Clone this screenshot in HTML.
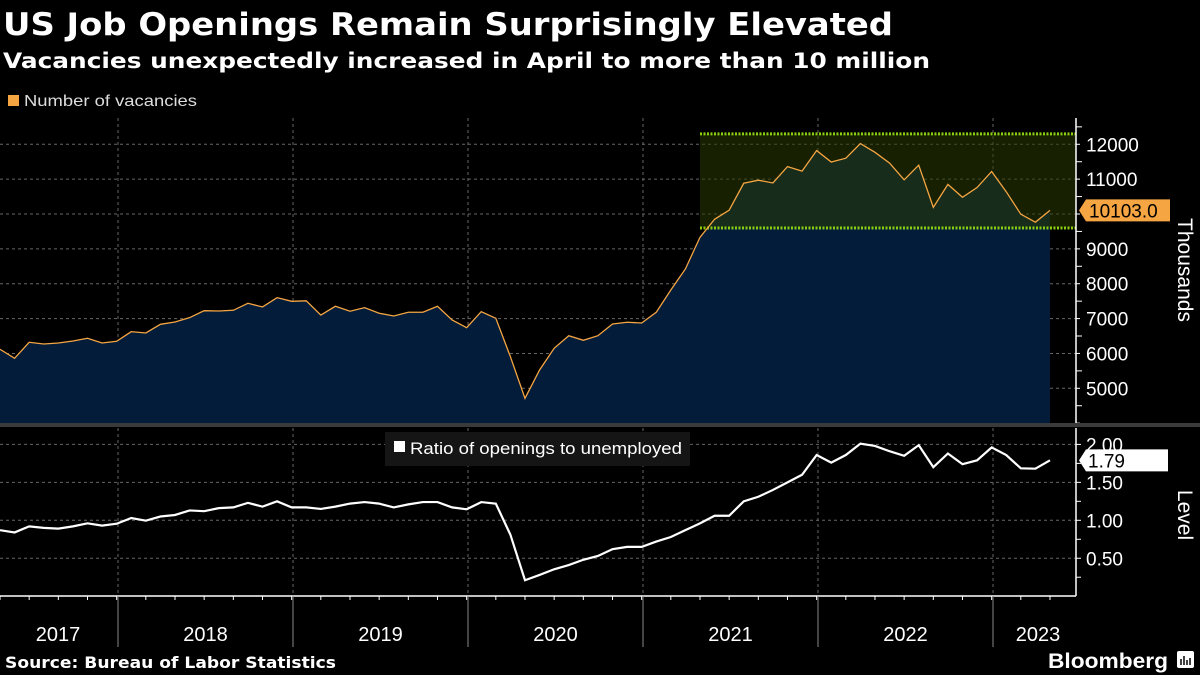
<!DOCTYPE html>
<html><head><meta charset="utf-8"><style>
html,body{margin:0;padding:0;background:#000;}
svg{display:block;font-family:"Liberation Sans","DejaVu Sans",sans-serif;}
</style></head><body>
<svg id="chart" width="1200" height="675" viewBox="0 0 1200 675" xmlns="http://www.w3.org/2000/svg">
<rect x="0" y="0" width="1200" height="675" fill="#000"/>
<text x="3" y="35" fill="#fff" font-size="31" font-weight="bold" font-family="DejaVu Sans, sans-serif" textLength="890" lengthAdjust="spacingAndGlyphs">US Job Openings Remain Surprisingly Elevated</text>
<text x="3" y="68" fill="#fff" font-size="21" font-weight="bold" font-family="DejaVu Sans, sans-serif" textLength="927" lengthAdjust="spacingAndGlyphs">Vacancies unexpectedly increased in April to more than 10 million</text>
<rect x="8" y="95" width="11" height="11" fill="#f5a542"/>
<text x="24" y="106" fill="#ddd" font-size="16" textLength="173" lengthAdjust="spacingAndGlyphs">Number of vacancies</text>
<g id="topPanel"></g>
<g id="botPanel"></g>
<rect x="0" y="423" width="1200" height="4" fill="#3a3a3a"/>
<text x="5" y="668" fill="#fff" font-size="16" font-weight="bold" font-family="DejaVu Sans, sans-serif" textLength="331" lengthAdjust="spacingAndGlyphs">Source: Bureau of Labor Statistics</text>
<text x="1048" y="668" fill="#fff" font-size="21" font-weight="bold" textLength="120" lengthAdjust="spacingAndGlyphs">Bloomberg</text>
<rect x="1177" y="651" width="17" height="17" rx="2" fill="#fff"/>
<path d="M1181 665 V659 M1184 665 V656 M1187 665 V660 M1190 665 V658" stroke="#000" stroke-width="1.5"/>
</svg>
<script>
const vacancies = [6119,5860,6320,6271,6300,6357,6435,6300,6348,6625,6587,6836,6903,7026,7227,7218,7238,7439,7333,7600,7496,7510,7100,7353,7210,7314,7153,7075,7182,7182,7353,6960,6740,7200,7008,5907,4713,5525,6148,6509,6377,6509,6845,6894,6874,7180,7820,8423,9332,9849,10111,10882,10970,10890,11360,11230,11820,11490,11600,12020,11770,11460,10980,11400,10190,10850,10480,10760,11220,10640,9995,9765,10103];
const ratio = [0.87,0.84,0.92,0.90,0.89,0.92,0.96,0.93,0.955,1.03,0.995,1.05,1.07,1.13,1.12,1.16,1.17,1.23,1.18,1.25,1.17,1.17,1.15,1.18,1.22,1.24,1.22,1.17,1.21,1.24,1.24,1.17,1.145,1.24,1.22,0.81,0.21,0.28,0.355,0.41,0.48,0.53,0.62,0.65,0.65,0.72,0.78,0.87,0.96,1.06,1.06,1.25,1.31,1.40,1.50,1.60,1.86,1.76,1.86,2.01,1.98,1.91,1.85,1.99,1.70,1.88,1.74,1.79,1.96,1.86,1.685,1.68,1.79];
const topTicks = [5000,6000,7000,8000,9000,10000,11000,12000];
const topTickLabels = ["5000","6000","7000","8000","9000","","11000","12000"];
const botTicks = [0.5,1.0,1.5,2.0];
const botTickLabels = ["0.50","1.00","1.50","2.00"];
const years = ["2017","2018","2019","2020","2021","2022","2023"];
const bandRange = [9600,12300];
const bandStartIndex = 48;

const NS="http://www.w3.org/2000/svg";
const MONTH=14.583;
const xOf=i=>i*MONTH;
const yTop=v=>388.3-(v-5000)*0.03486;
const yBot=v=>596.2-v*75.9;
const AXX=1076;
function mk(tag,attrs,parent){const e=document.createElementNS(NS,tag);for(const k in attrs)e.setAttribute(k,attrs[k]);parent.appendChild(e);return e;}
const topG=document.getElementById('topPanel'), botG=document.getElementById('botPanel');
const yearStart=y=>118+(y-1)*175;

topTicks.forEach(t=>{
  const g=mk('line',{x1:0,x2:AXX,y1:yTop(t),y2:yTop(t),stroke:'#666','stroke-dasharray':'3,3','stroke-width':1},topG);
  
  
});
for(let y=1;y<years.length;y++){
  const g=mk('line',{x1:yearStart(y),x2:yearStart(y),y1:118,y2:423,stroke:'#666','stroke-dasharray':'3,3','stroke-width':1},topG);
  
  
}
const n=vacancies.length;
const pts=vacancies.map((v,i)=>xOf(i)+','+yTop(v)).join(' ');
const area=mk('polygon',{points:'0,423 '+pts+' '+xOf(n-1)+',423',fill:'#021c3a'},topG);


const bx=xOf(bandStartIndex), by1=yTop(bandRange[1]), by2=yTop(bandRange[0]);
const band=mk('rect',{x:bx,y:by1,width:AXX-bx,height:by2-by1,fill:'#2a3a00','fill-opacity':0.55},topG);


[by1,by2].forEach(yy=>{
  const l=mk('line',{x1:bx,x2:AXX,y1:yy,y2:yy,stroke:'#8ccf10','stroke-width':3,'stroke-dasharray':'2,1.5'},topG);
  
  
});
const line=mk('polyline',{points:pts,fill:'none',stroke:'#f5a542','stroke-width':1.3},topG);


const ax=mk('line',{x1:AXX,x2:AXX,y1:118,y2:423,stroke:'#fff','stroke-width':1.5},topG);


for(let v=4000;v<=12500;v+=500){
  const tk=mk('line',{x1:AXX,x2:AXX+(v%1000===0?4:6),y1:yTop(v),y2:yTop(v),stroke:'#fff'},topG);
  
  
}
topTicks.forEach((t,i)=>{
  const tx=mk('text',{x:1086,y:yTop(t)+7,fill:'#fff','font-size':19},topG);
  tx.textContent=topTickLabels[i];
  
  
});
const th=mk('text',{x:0,y:0,fill:'#fff','font-size':21,transform:'translate(1178,270) rotate(90)','text-anchor':'middle'},topG);
th.textContent='Thousands';


const lv=vacancies[n-1], ly=yTop(lv);
const lb=mk('polygon',{points:`1079,${ly} 1086,${ly-11} 1170,${ly-11} 1170,${ly+11} 1086,${ly+11}`,fill:'#f5a542'},topG);


const lt=mk('text',{x:1089,y:ly+7,fill:'#000','font-size':19},topG);
lt.textContent=lv.toFixed(1);



botTicks.forEach(t=>{
  const g=mk('line',{x1:0,x2:AXX,y1:yBot(t),y2:yBot(t),stroke:'#666','stroke-dasharray':'3,3'},botG);
  
  
});
for(let y=1;y<years.length;y++){
  const g=mk('line',{x1:yearStart(y),x2:yearStart(y),y1:428,y2:595,stroke:'#666','stroke-dasharray':'3,3'},botG);
  
  
}
const lg=mk('rect',{x:385,y:432,width:305,height:34,fill:'#151515'},botG);


const ls=mk('rect',{x:394,y:441,width:11,height:11,fill:'#fff'},botG);


const ltx=mk('text',{x:410,y:454,fill:'#fff','font-size':17,textLength:272,lengthAdjust:'spacingAndGlyphs'},botG);
ltx.textContent='Ratio of openings to unemployed';


const rpts=ratio.map((v,i)=>xOf(i)+','+yBot(v)).join(' ');
const rl=mk('polyline',{points:rpts,fill:'none',stroke:'#fff','stroke-width':2.2},botG);


const bax=mk('line',{x1:AXX,x2:AXX,y1:428,y2:596,stroke:'#fff','stroke-width':1.5},botG);


for(let v=0.25;v<=2.0;v+=0.25){
  const tk=mk('line',{x1:AXX,x2:AXX+5,y1:yBot(v),y2:yBot(v),stroke:'#fff'},botG);
  
  
}
botTicks.forEach((t,i)=>{
  const tx=mk('text',{x:1086,y:yBot(t)+7,fill:'#fff','font-size':19},botG);
  tx.textContent=botTickLabels[i];
  
  
});
const lvt=mk('text',{x:0,y:0,fill:'#fff','font-size':21,transform:'translate(1178,515) rotate(90)','text-anchor':'middle'},botG);
lvt.textContent='Level';


const rv=ratio[n-1], ry=yBot(rv);
const rb=mk('polygon',{points:`1079,${ry} 1086,${ry-11} 1168,${ry-11} 1168,${ry+11} 1086,${ry+11}`,fill:'#fff'},botG);


const rt=mk('text',{x:1088,y:ry+7,fill:'#000','font-size':19},botG);
rt.textContent=rv.toFixed(2);



const xa=mk('line',{x1:0,x2:AXX,y1:596,y2:596,stroke:'#fff','stroke-width':1.5},botG);


for(let i=0;i<n+1;i+=2){
  const tk=mk('line',{x1:xOf(i),x2:xOf(i),y1:596,y2:600,stroke:'#fff'},botG);
  
  
}
years.forEach((yr,i)=>{
  if(i>0){
    const d=mk('line',{x1:yearStart(i),x2:yearStart(i),y1:596,y2:647,stroke:'#888'},botG);
    
    
  }
  const left=i===0?0:yearStart(i), right=yearStart(i+1);
  const cx=i===years.length-1?1038:(i===0?58:(left+right)/2);
  const t=mk('text',{x:cx,y:641,fill:'#fff','font-size':20,'text-anchor':'middle'},botG);
  t.textContent=yr;
  
  
});
</script>
</body></html>
